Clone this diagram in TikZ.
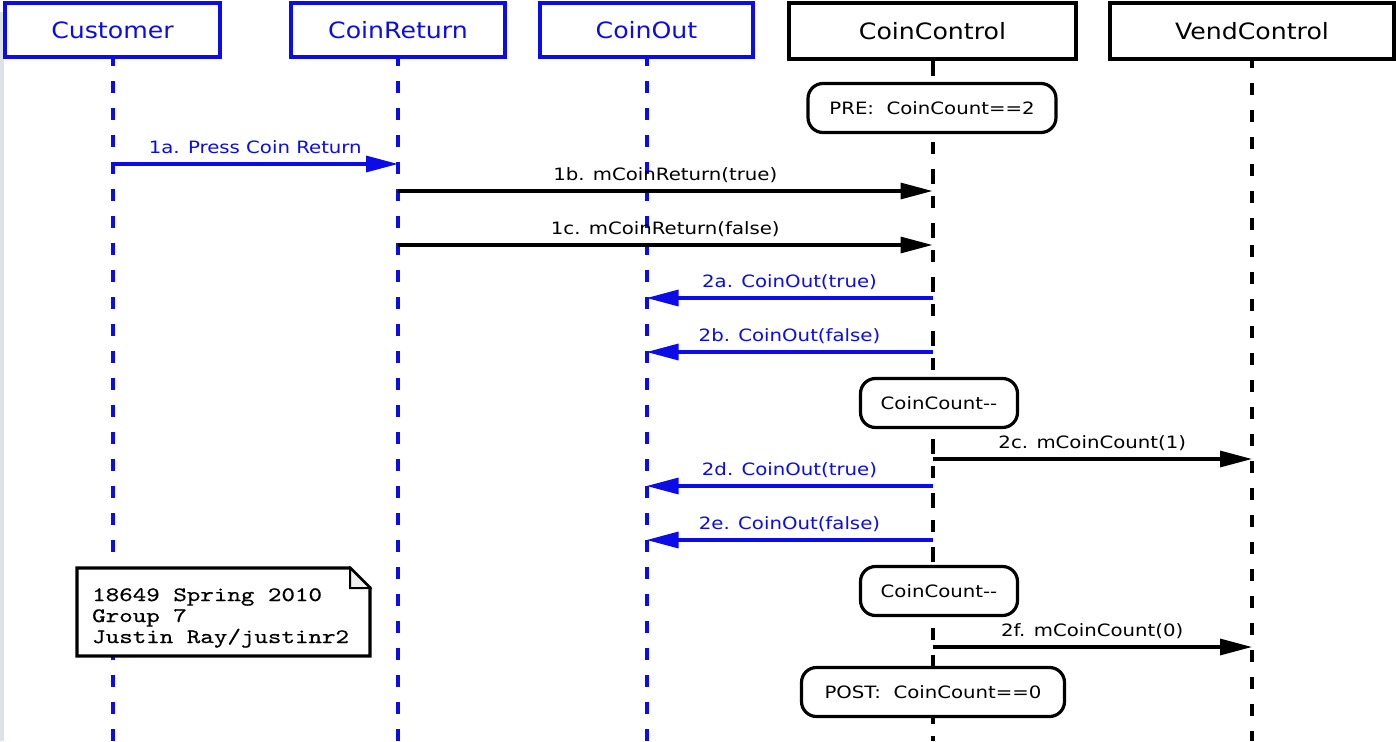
\documentclass[tikz,border=0pt]{standalone}
\usepackage{fontspec}
\setmainfont{DejaVu Sans}[FakeStretch=1.16]
\newfontfamily\headfont{DejaVu Sans}[FakeStretch=1.12]
\newfontfamily\notefont{lmmono10-regular.otf}[FakeStretch=1.25, FakeBold=0.5]
\usetikzlibrary{arrows.meta}
\definecolor{actorblue}{RGB}{12,12,232}
\definecolor{edgegray}{RGB}{221,226,232}

\begin{document}
\begin{tikzpicture}[x=1pt,y=-1pt,
  head/.style={draw, line width=3.6pt, fill=white, inner sep=0pt,
    minimum height=54pt, font=\headfont\fontsize{22.5}{26}\selectfont},
  bluehead/.style={head, draw=actorblue, text=actorblue},
  blackhead/.style={head, draw=black, text=black, minimum height=56pt},
  life/.style={line width=4pt, dash pattern=on 12pt off 15pt},
  msg/.style={line width=3.2pt, -{Triangle[length=32pt,width=16pt]}},
  msgblue/.style={msg, draw=actorblue},
  lbl/.style={midway, anchor=base, yshift=11pt, inner sep=0pt,
    font=\fontsize{17}{20}\selectfont},
  state/.style={draw, line width=3.2pt, fill=white, rounded corners=15pt,
    inner sep=0pt, minimum height=49pt, font=\fontsize{17}{20}\selectfont},
]
\useasboundingbox (0,0) rectangle (1396,741);
\fill[white] (0,0) rectangle (1396,741);
% window edge
\fill[edgegray] (0,14) rectangle (4,741);
\draw[edgegray, line width=2pt] (0,13) -- (14,13);

% lifeline heads
\node[bluehead, minimum width=215pt] (cust) at (112.5,30) {Customer};
\node[bluehead, minimum width=214pt] (cret) at (398,30) {CoinReturn};
\node[bluehead, minimum width=213pt] (cout) at (646.5,30) {CoinOut};
\node[blackhead, minimum width=287pt] (cctl) at (932.5,31) {CoinControl};
\node[blackhead, minimum width=284pt] (vctl) at (1252,31) {VendControl};

\coordinate (bottom) at (0,741);

% lifelines
\draw[life, actorblue, dash phase=5pt] (cust.south) -- (cust.south |- bottom);
\draw[life, actorblue, dash phase=5pt] (cret.south) -- (cret.south |- bottom);
\draw[life, actorblue, dash phase=5pt] (cout.south) -- (cout.south |- bottom);
\draw[life, black, dash pattern=on 15pt off 12pt on 12pt off 15pt] (cctl.south) -- (cctl.south |- bottom);
\draw[life, black, dash phase=5pt] (vctl.south) -- (vctl.south |- bottom);

% state boxes on CoinControl
\node[state, minimum width=248pt] (pre) at (932,108) {PRE:\ \ CoinCount==2};
\node[state, minimum width=157pt] (dec1) at (939,403) {CoinCount-{}-};
\node[state, minimum width=157pt] (dec2) at (939,591) {CoinCount-{}-};
\node[state, minimum width=263pt] (post) at (933,692) {POST:\ \ CoinCount==0};

% message rows
\coordinate (r1a) at (0,164);
\coordinate (r1b) at (0,191);
\coordinate (r1c) at (0,245);
\coordinate (r2a) at (0,298);
\coordinate (r2b) at (0,352);
\coordinate (r2c) at (0,459);
\coordinate (r2d) at (0,486);
\coordinate (r2e) at (0,540);
\coordinate (r2f) at (0,647);

\draw[msgblue] (cust |- r1a) -- node[lbl, text=actorblue] {1a. Press Coin Return} (cret |- r1a);
\draw[msg] (cret |- r1b) -- node[lbl] {1b. mCoinReturn(true)} (cctl |- r1b);
\draw[msg] (cret |- r1c) -- node[lbl] {1c. mCoinReturn(false)} (cctl |- r1c);
\draw[msgblue] (cctl |- r2a) -- node[lbl, text=actorblue] {2a. CoinOut(true)} (cout |- r2a);
\draw[msgblue] (cctl |- r2b) -- node[lbl, text=actorblue] {2b. CoinOut(false)} (cout |- r2b);
\draw[msg] (cctl |- r2c) -- node[lbl] {2c. mCoinCount(1)} (vctl |- r2c);
\draw[msgblue] (cctl |- r2d) -- node[lbl, text=actorblue] {2d. CoinOut(true)} (cout |- r2d);
\draw[msgblue] (cctl |- r2e) -- node[lbl, text=actorblue] {2e. CoinOut(false)} (cout |- r2e);
\draw[msg] (cctl |- r2f) -- node[lbl] {2f. mCoinCount(0)} (vctl |- r2f);

% note with folded corner
\draw[line width=3.2pt, fill=white, line join=miter]
  (77,568) -- (350,568) -- (370,588) -- (370,656) -- (77,656) -- cycle;
\draw[line width=2pt, fill=gray!12] (350,568) -- (350,588) -- (370,588) -- cycle;
\node[anchor=north west, align=left, inner sep=0pt,
  font=\notefont\fontsize{20.6}{21}\selectfont] (note) at (92,588)
  {18649 Spring 2010\\Group 7\\Justin Ray/justinr2};
\end{tikzpicture}
\end{document}
